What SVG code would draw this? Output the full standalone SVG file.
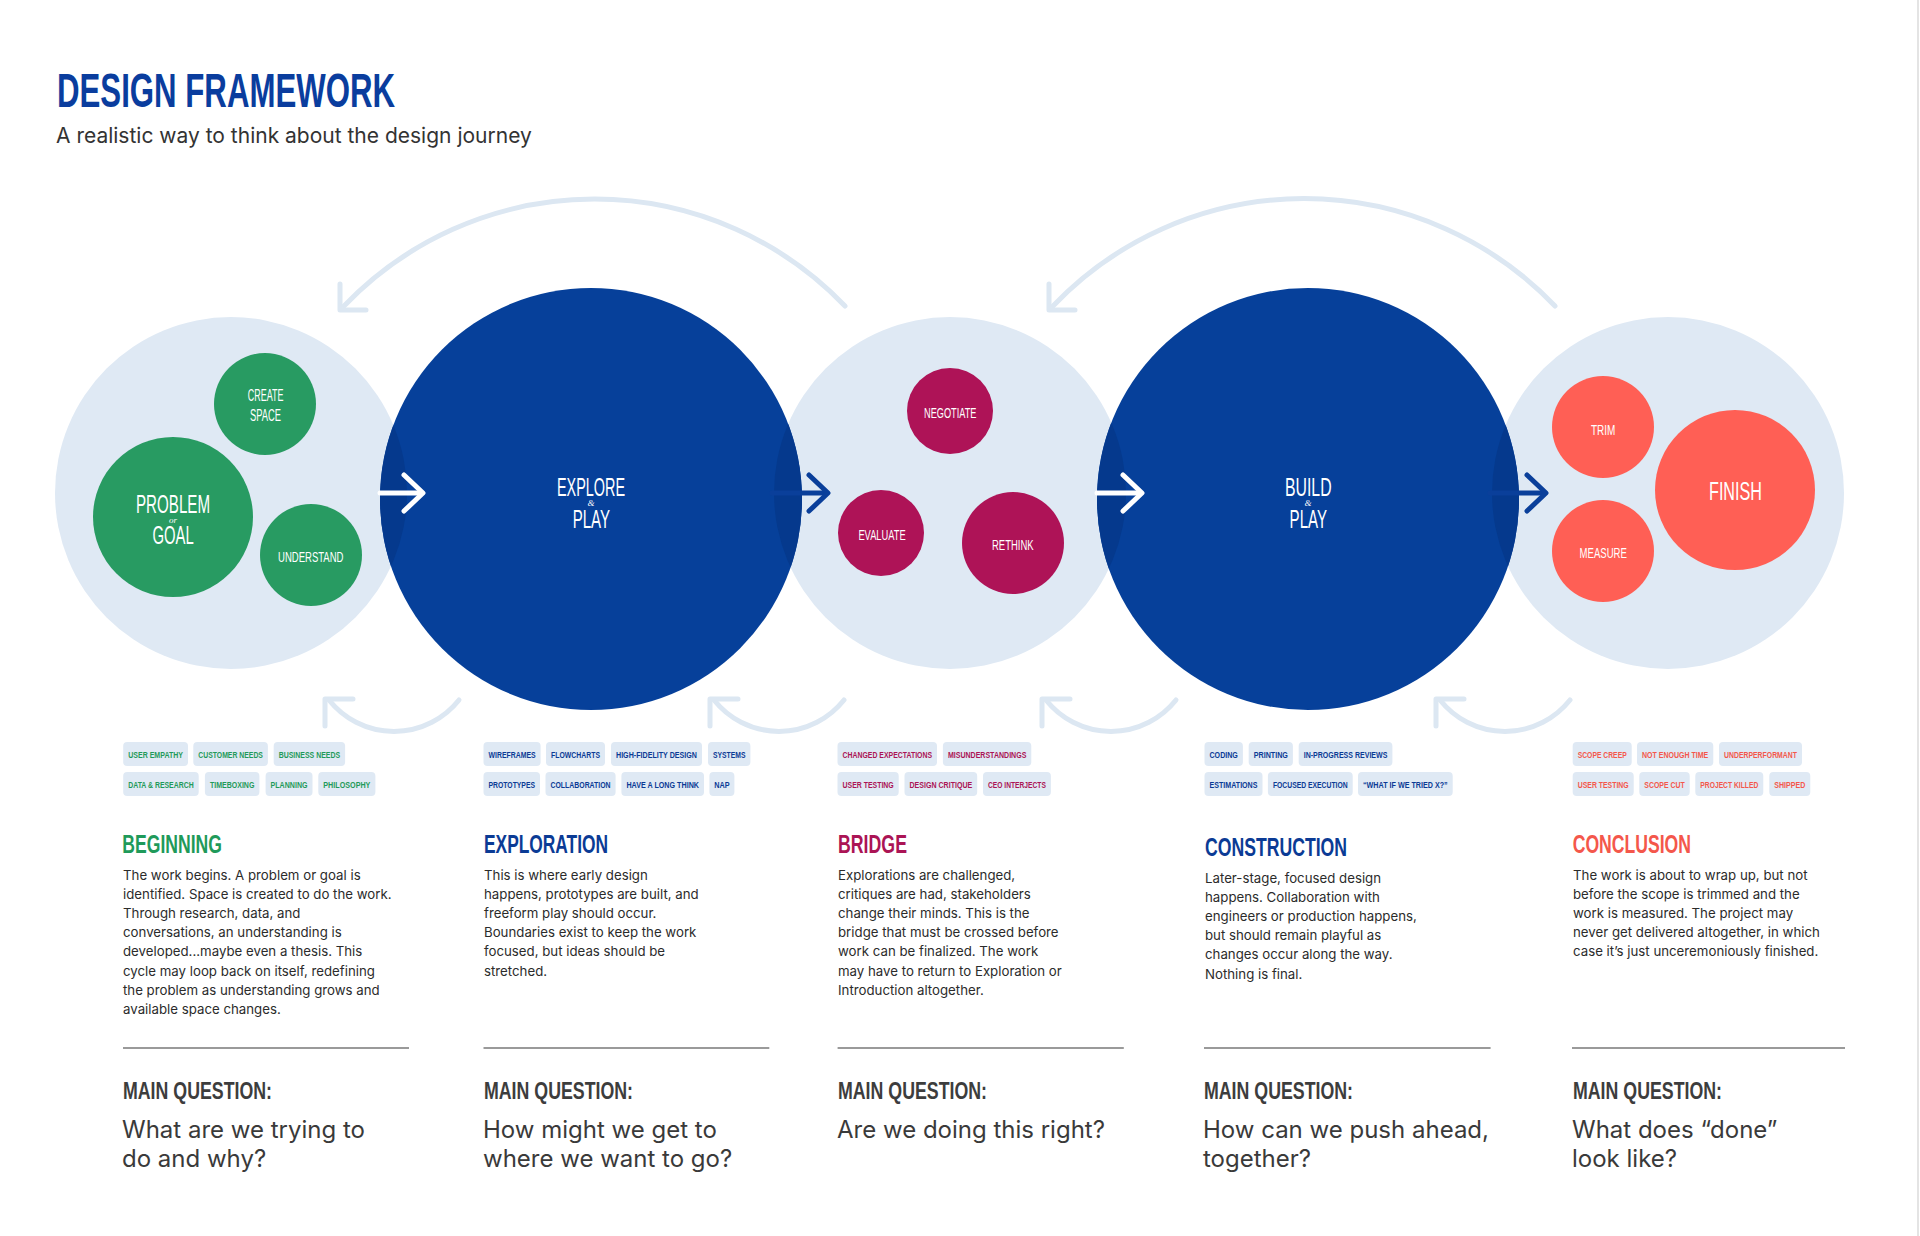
<svg xmlns="http://www.w3.org/2000/svg" width="1920" height="1236" viewBox="0 0 1920 1236">
<defs>
<style>
.bg{fill:#ffffff}
.lt{fill:#dfe9f4}
.dk{fill:#06409a}
.ov{fill:#05398d}
.gr{fill:#289b62}
.mg{fill:#ae1357}
.co{fill:#ff5f55}
.cn{font-family:'Liberation Sans Narrow','Liberation Sans',Arial,sans-serif}
.lbl{fill:#ffffff}
.sm{font-family:'Liberation Serif',serif;font-style:italic;fill:#ffffff;text-anchor:middle}
.tag rect{fill:#dfe9f4}
.tag text{font-family:'Liberation Sans Narrow','Liberation Sans',Arial,sans-serif;font-weight:bold;font-size:9.5px}
.tg text{fill:#1f9a5a}
.tb text{fill:#0b3b95}
.tm text{fill:#ab1455}
.tc text{fill:#f4574b}
.hd{font-family:'Liberation Sans Narrow','Liberation Sans',Arial,sans-serif;font-weight:bold;font-size:25.5px}
.body{font-family:Inter,'Noto Sans',sans-serif;font-size:13.25px;fill:#2b2b2b}
.mq{font-family:'Liberation Sans Narrow','Liberation Sans',Arial,sans-serif;font-weight:bold;font-size:24.5px;fill:#3d3d3d}
.q{font-family:Inter,'Noto Sans',sans-serif;font-size:24px;fill:#3a3a3a}
.div{stroke:#9a9a9a;stroke-width:2}
.loop{fill:none;stroke:#dce7f2;stroke-width:5;stroke-linecap:round;stroke-linejoin:round}
.arw{fill:none;stroke-width:5;stroke-linecap:round;stroke-linejoin:round}
</style>
<clipPath id="clipA"><circle cx="591" cy="499" r="211"/></clipPath>
<clipPath id="clipB"><circle cx="1308" cy="499" r="211"/></clipPath>
</defs>
<rect class="bg" x="0" y="0" width="1920" height="1236"/>
<line x1="1918" y1="0" x2="1918" y2="1236" stroke="#e4e4e4" stroke-width="2"/>

<g id="title">
<text x="57" y="107" class="cn" font-weight="bold" font-size="49" fill="#0a3d9e" textLength="338" lengthAdjust="spacingAndGlyphs">DESIGN FRAMEWORK</text>
<text x="56" y="142.7" font-family="Inter,'Noto Sans',sans-serif" font-size="21" fill="#333333">A realistic way to think about the design journey</text>
</g>

<g id="connectors">
<path class="loop" d="M845 306 A347 347 0 0 0 344 306"/>
<polyline class="loop" points="340,284 340,310 366,310"/>
<path class="loop" d="M1555 306 A347 347 0 0 0 1053 306"/>
<polyline class="loop" points="1049,284 1049,310 1075,310"/>
<path class="loop" d="M459 700 A83 83 0 0 1 329 700"/>
<polyline class="loop" points="325,726 325,699 353,699"/>
<path class="loop" d="M844 700 A83 83 0 0 1 714 700"/>
<polyline class="loop" points="710,726 710,699 738,699"/>
<path class="loop" d="M1176 700 A83 83 0 0 1 1046 700"/>
<polyline class="loop" points="1042,726 1042,699 1070,699"/>
<path class="loop" d="M1570 700 A83 83 0 0 1 1440 700"/>
<polyline class="loop" points="1436,726 1436,699 1464,699"/>
</g>

<g id="stage-beginning">
<circle class="lt" cx="231" cy="493" r="176"/>
</g>
<g id="stage-bridge">
<circle class="lt" cx="950" cy="493" r="176"/>
</g>
<g id="stage-conclusion">
<circle class="lt" cx="1668" cy="493" r="176"/>
</g>
<g id="stage-explore">
<circle class="dk" cx="591" cy="499" r="211"/>
<g clip-path="url(#clipA)">
<circle class="ov" cx="231" cy="493" r="176"/>
<circle class="ov" cx="950" cy="493" r="176"/>
</g>
<text class="cn lbl" x="557" y="496" font-size="25" textLength="68" lengthAdjust="spacingAndGlyphs">EXPLORE</text>
<text class="sm" x="591" y="505.5" font-size="9">&amp;</text>
<text class="cn lbl" x="572.7" y="527.5" font-size="25" textLength="37.3" lengthAdjust="spacingAndGlyphs">PLAY</text>
</g>
<g id="stage-build">
<circle class="dk" cx="1308" cy="499" r="211"/>
<g clip-path="url(#clipB)">
<circle class="ov" cx="950" cy="493" r="176"/>
<circle class="ov" cx="1668" cy="493" r="176"/>
</g>
<text class="cn lbl" x="1285" y="496" font-size="25" textLength="46.6" lengthAdjust="spacingAndGlyphs">BUILD</text>
<text class="sm" x="1308" y="505.5" font-size="9">&amp;</text>
<text class="cn lbl" x="1289.6" y="527.5" font-size="25" textLength="37.4" lengthAdjust="spacingAndGlyphs">PLAY</text>
</g>

<g id="node-create-space">
<circle class="gr" cx="265" cy="404" r="51"/>
<text class="cn lbl" x="247.8" y="400.7" font-size="16" textLength="35.6" lengthAdjust="spacingAndGlyphs">CREATE</text>
<text class="cn lbl" x="250" y="420.5" font-size="16" textLength="31" lengthAdjust="spacingAndGlyphs">SPACE</text>
</g>
<g id="node-problem-goal">
<circle class="gr" cx="173" cy="517" r="80"/>
<text class="cn lbl" x="136" y="513" font-size="25.5" textLength="74" lengthAdjust="spacingAndGlyphs">PROBLEM</text>
<text class="sm" x="173" y="523" font-size="9">or</text>
<text class="cn lbl" x="152.5" y="543.6" font-size="25.5" textLength="41.3" lengthAdjust="spacingAndGlyphs">GOAL</text>
</g>
<g id="node-understand">
<circle class="gr" cx="311" cy="555" r="51"/>
<text class="cn lbl" x="278" y="562.3" font-size="15" textLength="65.5" lengthAdjust="spacingAndGlyphs">UNDERSTAND</text>
</g>
<g id="node-negotiate">
<circle class="mg" cx="950" cy="411" r="43"/>
<text class="cn lbl" x="924" y="417.7" font-size="15" textLength="52.5" lengthAdjust="spacingAndGlyphs">NEGOTIATE</text>
</g>
<g id="node-evaluate">
<circle class="mg" cx="881" cy="533" r="43"/>
<text class="cn lbl" x="858.4" y="539.7" font-size="15" textLength="47.3" lengthAdjust="spacingAndGlyphs">EVALUATE</text>
</g>
<g id="node-rethink">
<circle class="mg" cx="1013" cy="543" r="51"/>
<text class="cn lbl" x="992" y="549.8" font-size="15" textLength="41.7" lengthAdjust="spacingAndGlyphs">RETHINK</text>
</g>
<g id="node-trim">
<circle class="co" cx="1603" cy="427" r="51"/>
<text class="cn lbl" x="1591" y="434.6" font-size="15.5" textLength="24.4" lengthAdjust="spacingAndGlyphs">TRIM</text>
</g>
<g id="node-measure">
<circle class="co" cx="1603" cy="551" r="51"/>
<text class="cn lbl" x="1579.5" y="558.4" font-size="15.5" textLength="47.4" lengthAdjust="spacingAndGlyphs">MEASURE</text>
</g>
<g id="node-finish">
<circle class="co" cx="1735" cy="490" r="80"/>
<text class="cn lbl" x="1709" y="500" font-size="25" textLength="53" lengthAdjust="spacingAndGlyphs">FINISH</text>
</g>

<g id="flow-arrows">
<line class="arw" x1="380" y1="493" x2="421" y2="493" stroke="#ffffff"/>
<polyline class="arw" points="404,475 423,493 404,511" stroke="#ffffff"/>
<line class="arw" x1="772" y1="493" x2="826" y2="493" stroke="#0a3f9a"/>
<polyline class="arw" points="809,475 828,493 809,511" stroke="#0a3f9a"/>
<line class="arw" x1="1097" y1="493" x2="1140" y2="493" stroke="#ffffff"/>
<polyline class="arw" points="1123,475 1142,493 1123,511" stroke="#ffffff"/>
<line class="arw" x1="1490" y1="493" x2="1544" y2="493" stroke="#0a3f9a"/>
<polyline class="arw" points="1527,475 1546,493 1527,511" stroke="#0a3f9a"/>
</g>

<g id="tags-beginning" class="tag tg">
<rect x="123.2" y="742" width="64.8" height="24" rx="4"/><text transform="translate(128.2,757.8) scale(0.62,1)" textLength="88.4" lengthAdjust="spacingAndGlyphs">USER EMPATHY</text>
<rect x="193.3" y="742" width="74.6" height="24" rx="4"/><text transform="translate(198.3,757.8) scale(0.62,1)" textLength="104.2" lengthAdjust="spacingAndGlyphs">CUSTOMER NEEDS</text>
<rect x="273.7" y="742" width="71.4" height="24" rx="4"/><text transform="translate(278.7,757.8) scale(0.62,1)" textLength="99" lengthAdjust="spacingAndGlyphs">BUSINESS NEEDS</text>
<rect x="123.2" y="772" width="75.5" height="24" rx="4"/><text transform="translate(128.2,787.8) scale(0.62,1)" textLength="105.6" lengthAdjust="spacingAndGlyphs">DATA &amp; RESEARCH</text>
<rect x="204.9" y="772" width="54.5" height="24" rx="4"/><text transform="translate(209.9,787.8) scale(0.62,1)" textLength="71.8" lengthAdjust="spacingAndGlyphs">TIMEBOXING</text>
<rect x="265.6" y="772" width="46.9" height="24" rx="4"/><text transform="translate(270.6,787.8) scale(0.62,1)" textLength="59.5" lengthAdjust="spacingAndGlyphs">PLANNING</text>
<rect x="318.3" y="772" width="57.1" height="24" rx="4"/><text transform="translate(323.3,787.8) scale(0.62,1)" textLength="76" lengthAdjust="spacingAndGlyphs">PHILOSOPHY</text>
</g>
<g id="tags-exploration" class="tag tb">
<rect x="483.5" y="742" width="57.1" height="24" rx="4"/><text transform="translate(488.5,757.8) scale(0.62,1)" textLength="76" lengthAdjust="spacingAndGlyphs">WIREFRAMES</text>
<rect x="546" y="742" width="59" height="24" rx="4"/><text transform="translate(551,757.8) scale(0.62,1)" textLength="79" lengthAdjust="spacingAndGlyphs">FLOWCHARTS</text>
<rect x="611" y="742" width="91" height="24" rx="4"/><text transform="translate(616,757.8) scale(0.62,1)" textLength="130.6" lengthAdjust="spacingAndGlyphs">HIGH-FIDELITY DESIGN</text>
<rect x="708" y="742" width="42.4" height="24" rx="4"/><text transform="translate(713,757.8) scale(0.62,1)" textLength="52.3" lengthAdjust="spacingAndGlyphs">SYSTEMS</text>
<rect x="483.5" y="772" width="56.5" height="24" rx="4"/><text transform="translate(488.5,787.8) scale(0.62,1)" textLength="75" lengthAdjust="spacingAndGlyphs">PROTOTYPES</text>
<rect x="545.5" y="772" width="70.1" height="24" rx="4"/><text transform="translate(550.5,787.8) scale(0.62,1)" textLength="96.9" lengthAdjust="spacingAndGlyphs">COLLABORATION</text>
<rect x="621.4" y="772" width="82.6" height="24" rx="4"/><text transform="translate(626.4,787.8) scale(0.62,1)" textLength="117.1" lengthAdjust="spacingAndGlyphs">HAVE A LONG THINK</text>
<rect x="709.4" y="772" width="25" height="24" rx="4"/><text transform="translate(714.2,787.8) scale(0.62,1)" textLength="24.8" lengthAdjust="spacingAndGlyphs">NAP</text>
</g>
<g id="tags-bridge" class="tag tm">
<rect x="837.5" y="742" width="99.5" height="24" rx="4"/><text transform="translate(842.5,757.8) scale(0.62,1)" textLength="144.4" lengthAdjust="spacingAndGlyphs">CHANGED EXPECTATIONS</text>
<rect x="942.9" y="742" width="88.4" height="24" rx="4"/><text transform="translate(947.9,757.8) scale(0.62,1)" textLength="126.5" lengthAdjust="spacingAndGlyphs">MISUNDERSTANDINGS</text>
<rect x="837.5" y="772" width="61.2" height="24" rx="4"/><text transform="translate(842.5,787.8) scale(0.62,1)" textLength="82.6" lengthAdjust="spacingAndGlyphs">USER TESTING</text>
<rect x="904.5" y="772" width="72.7" height="24" rx="4"/><text transform="translate(909.5,787.8) scale(0.62,1)" textLength="101.1" lengthAdjust="spacingAndGlyphs">DESIGN CRITIQUE</text>
<rect x="983" y="772" width="67.9" height="24" rx="4"/><text transform="translate(988,787.8) scale(0.62,1)" textLength="93.4" lengthAdjust="spacingAndGlyphs">CEO INTERJECTS</text>
</g>
<g id="tags-construction" class="tag tb">
<rect x="1204.5" y="742" width="38.4" height="24" rx="4"/><text transform="translate(1209.5,757.8) scale(0.62,1)" textLength="45.8" lengthAdjust="spacingAndGlyphs">CODING</text>
<rect x="1248.7" y="742" width="44.2" height="24" rx="4"/><text transform="translate(1253.7,757.8) scale(0.62,1)" textLength="55.2" lengthAdjust="spacingAndGlyphs">PRINTING</text>
<rect x="1298.7" y="742" width="93.7" height="24" rx="4"/><text transform="translate(1303.7,757.8) scale(0.62,1)" textLength="135" lengthAdjust="spacingAndGlyphs">IN-PROGRESS REVIEWS</text>
<rect x="1204.5" y="772" width="58" height="24" rx="4"/><text transform="translate(1209.5,787.8) scale(0.62,1)" textLength="77.4" lengthAdjust="spacingAndGlyphs">ESTIMATIONS</text>
<rect x="1267.9" y="772" width="84.8" height="24" rx="4"/><text transform="translate(1272.9,787.8) scale(0.62,1)" textLength="120.6" lengthAdjust="spacingAndGlyphs">FOCUSED EXECUTION</text>
<rect x="1358" y="772" width="94.7" height="24" rx="4"/><text transform="translate(1363,787.8) scale(0.62,1)" textLength="136.6" lengthAdjust="spacingAndGlyphs">“WHAT IF WE TRIED X?”</text>
</g>
<g id="tags-conclusion" class="tag tc">
<rect x="1572.7" y="742" width="59" height="24" rx="4"/><text transform="translate(1577.7,757.8) scale(0.62,1)" textLength="79" lengthAdjust="spacingAndGlyphs">SCOPE CREEP</text>
<rect x="1637" y="742" width="76.3" height="24" rx="4"/><text transform="translate(1642,757.8) scale(0.62,1)" textLength="106.9" lengthAdjust="spacingAndGlyphs">NOT ENOUGH TIME</text>
<rect x="1719" y="742" width="83" height="24" rx="4"/><text transform="translate(1724,757.8) scale(0.62,1)" textLength="117.7" lengthAdjust="spacingAndGlyphs">UNDERPERFORMANT</text>
<rect x="1572.7" y="772" width="61" height="24" rx="4"/><text transform="translate(1577.7,787.8) scale(0.62,1)" textLength="82.3" lengthAdjust="spacingAndGlyphs">USER TESTING</text>
<rect x="1639.3" y="772" width="50.4" height="24" rx="4"/><text transform="translate(1644.3,787.8) scale(0.62,1)" textLength="65.2" lengthAdjust="spacingAndGlyphs">SCOPE CUT</text>
<rect x="1695.3" y="772" width="68" height="24" rx="4"/><text transform="translate(1700.3,787.8) scale(0.62,1)" textLength="93.5" lengthAdjust="spacingAndGlyphs">PROJECT KILLED</text>
<rect x="1769.3" y="772" width="41" height="24" rx="4"/><text transform="translate(1774.3,787.8) scale(0.62,1)" textLength="50" lengthAdjust="spacingAndGlyphs">SHIPPED</text>
</g>

<g id="text-beginning">
<text class="hd" x="122.3" y="853.3" fill="#1f9a5a" textLength="99.6" lengthAdjust="spacingAndGlyphs">BEGINNING</text>
<text class="body" x="123" y="880">
<tspan x="123" dy="0">The work begins. A problem or goal is</tspan>
<tspan x="123" dy="19.1">identified. Space is created to do the work.</tspan>
<tspan x="123" dy="19.1">Through research, data, and</tspan>
<tspan x="123" dy="19.1">conversations, an understanding is</tspan>
<tspan x="123" dy="19.1">developed...maybe even a thesis. This</tspan>
<tspan x="123" dy="19.1">cycle may loop back on itself, redefining</tspan>
<tspan x="123" dy="19.1">the problem as understanding grows and</tspan>
<tspan x="123" dy="19.1">available space changes.</tspan>
</text>
<line class="div" x1="123" y1="1048" x2="409" y2="1048"/>
<text class="mq" x="123" y="1099.3" textLength="149" lengthAdjust="spacingAndGlyphs">MAIN QUESTION:</text>
<text class="q" x="122" y="1137.7"><tspan x="122" dy="0">What are we trying to</tspan><tspan x="122" dy="29">do and why?</tspan></text>
</g>

<g id="text-exploration">
<text class="hd" x="484" y="853.3" fill="#0b3b95" textLength="124" lengthAdjust="spacingAndGlyphs">EXPLORATION</text>
<text class="body" x="484" y="880">
<tspan x="484" dy="0">This is where early design</tspan>
<tspan x="484" dy="19.1">happens, prototypes are built, and</tspan>
<tspan x="484" dy="19.1">freeform play should occur.</tspan>
<tspan x="484" dy="19.1">Boundaries exist to keep the work</tspan>
<tspan x="484" dy="19.1">focused, but ideas should be</tspan>
<tspan x="484" dy="19.1">stretched.</tspan>
</text>
<line class="div" x1="483.5" y1="1048" x2="769.3" y2="1048"/>
<text class="mq" x="484" y="1099.3" textLength="149" lengthAdjust="spacingAndGlyphs">MAIN QUESTION:</text>
<text class="q" x="483" y="1137.7"><tspan x="483" dy="0">How might we get to</tspan><tspan x="483" dy="29">where we want to go?</tspan></text>
</g>

<g id="text-bridge">
<text class="hd" x="838" y="853.3" fill="#ab1455" textLength="69" lengthAdjust="spacingAndGlyphs">BRIDGE</text>
<text class="body" x="838" y="880">
<tspan x="838" dy="0">Explorations are challenged,</tspan>
<tspan x="838" dy="19.1">critiques are had, stakeholders</tspan>
<tspan x="838" dy="19.1">change their minds. This is the</tspan>
<tspan x="838" dy="19.1">bridge that must be crossed before</tspan>
<tspan x="838" dy="19.1">work can be finalized. The work</tspan>
<tspan x="838" dy="19.1">may have to return to Exploration or</tspan>
<tspan x="838" dy="19.1">Introduction altogether.</tspan>
</text>
<line class="div" x1="837.6" y1="1048" x2="1123.8" y2="1048"/>
<text class="mq" x="838" y="1099.3" textLength="149" lengthAdjust="spacingAndGlyphs">MAIN QUESTION:</text>
<text class="q" x="837" y="1137.7">Are we doing this right?</text>
</g>

<g id="text-construction">
<text class="hd" x="1205" y="856" fill="#0b3b95" textLength="142" lengthAdjust="spacingAndGlyphs">CONSTRUCTION</text>
<text class="body" x="1205" y="883">
<tspan x="1205" dy="0">Later-stage, focused design</tspan>
<tspan x="1205" dy="19.1">happens. Collaboration with</tspan>
<tspan x="1205" dy="19.1">engineers or production happens,</tspan>
<tspan x="1205" dy="19.1">but should remain playful as</tspan>
<tspan x="1205" dy="19.1">changes occur along the way.</tspan>
<tspan x="1205" dy="19.1">Nothing is final.</tspan>
</text>
<line class="div" x1="1204" y1="1048" x2="1490.6" y2="1048"/>
<text class="mq" x="1204" y="1099.3" textLength="149" lengthAdjust="spacingAndGlyphs">MAIN QUESTION:</text>
<text class="q" x="1203" y="1137.7"><tspan x="1203" dy="0">How can we push ahead,</tspan><tspan x="1203" dy="29">together?</tspan></text>
</g>

<g id="text-conclusion">
<text class="hd" x="1572.7" y="853.3" fill="#f4574b" textLength="118.3" lengthAdjust="spacingAndGlyphs">CONCLUSION</text>
<text class="body" x="1573" y="880">
<tspan x="1573" dy="0">The work is about to wrap up, but not</tspan>
<tspan x="1573" dy="19.1">before the scope is trimmed and the</tspan>
<tspan x="1573" dy="19.1">work is measured. The project may</tspan>
<tspan x="1573" dy="19.1">never get delivered altogether, in which</tspan>
<tspan x="1573" dy="19.1">case it’s just unceremoniously finished.</tspan>
</text>
<line class="div" x1="1572" y1="1048" x2="1845" y2="1048"/>
<text class="mq" x="1573" y="1099.3" textLength="149" lengthAdjust="spacingAndGlyphs">MAIN QUESTION:</text>
<text class="q" x="1572" y="1137.7"><tspan x="1572" dy="0">What does “done”</tspan><tspan x="1572" dy="29">look like?</tspan></text>
</g>
</svg>
